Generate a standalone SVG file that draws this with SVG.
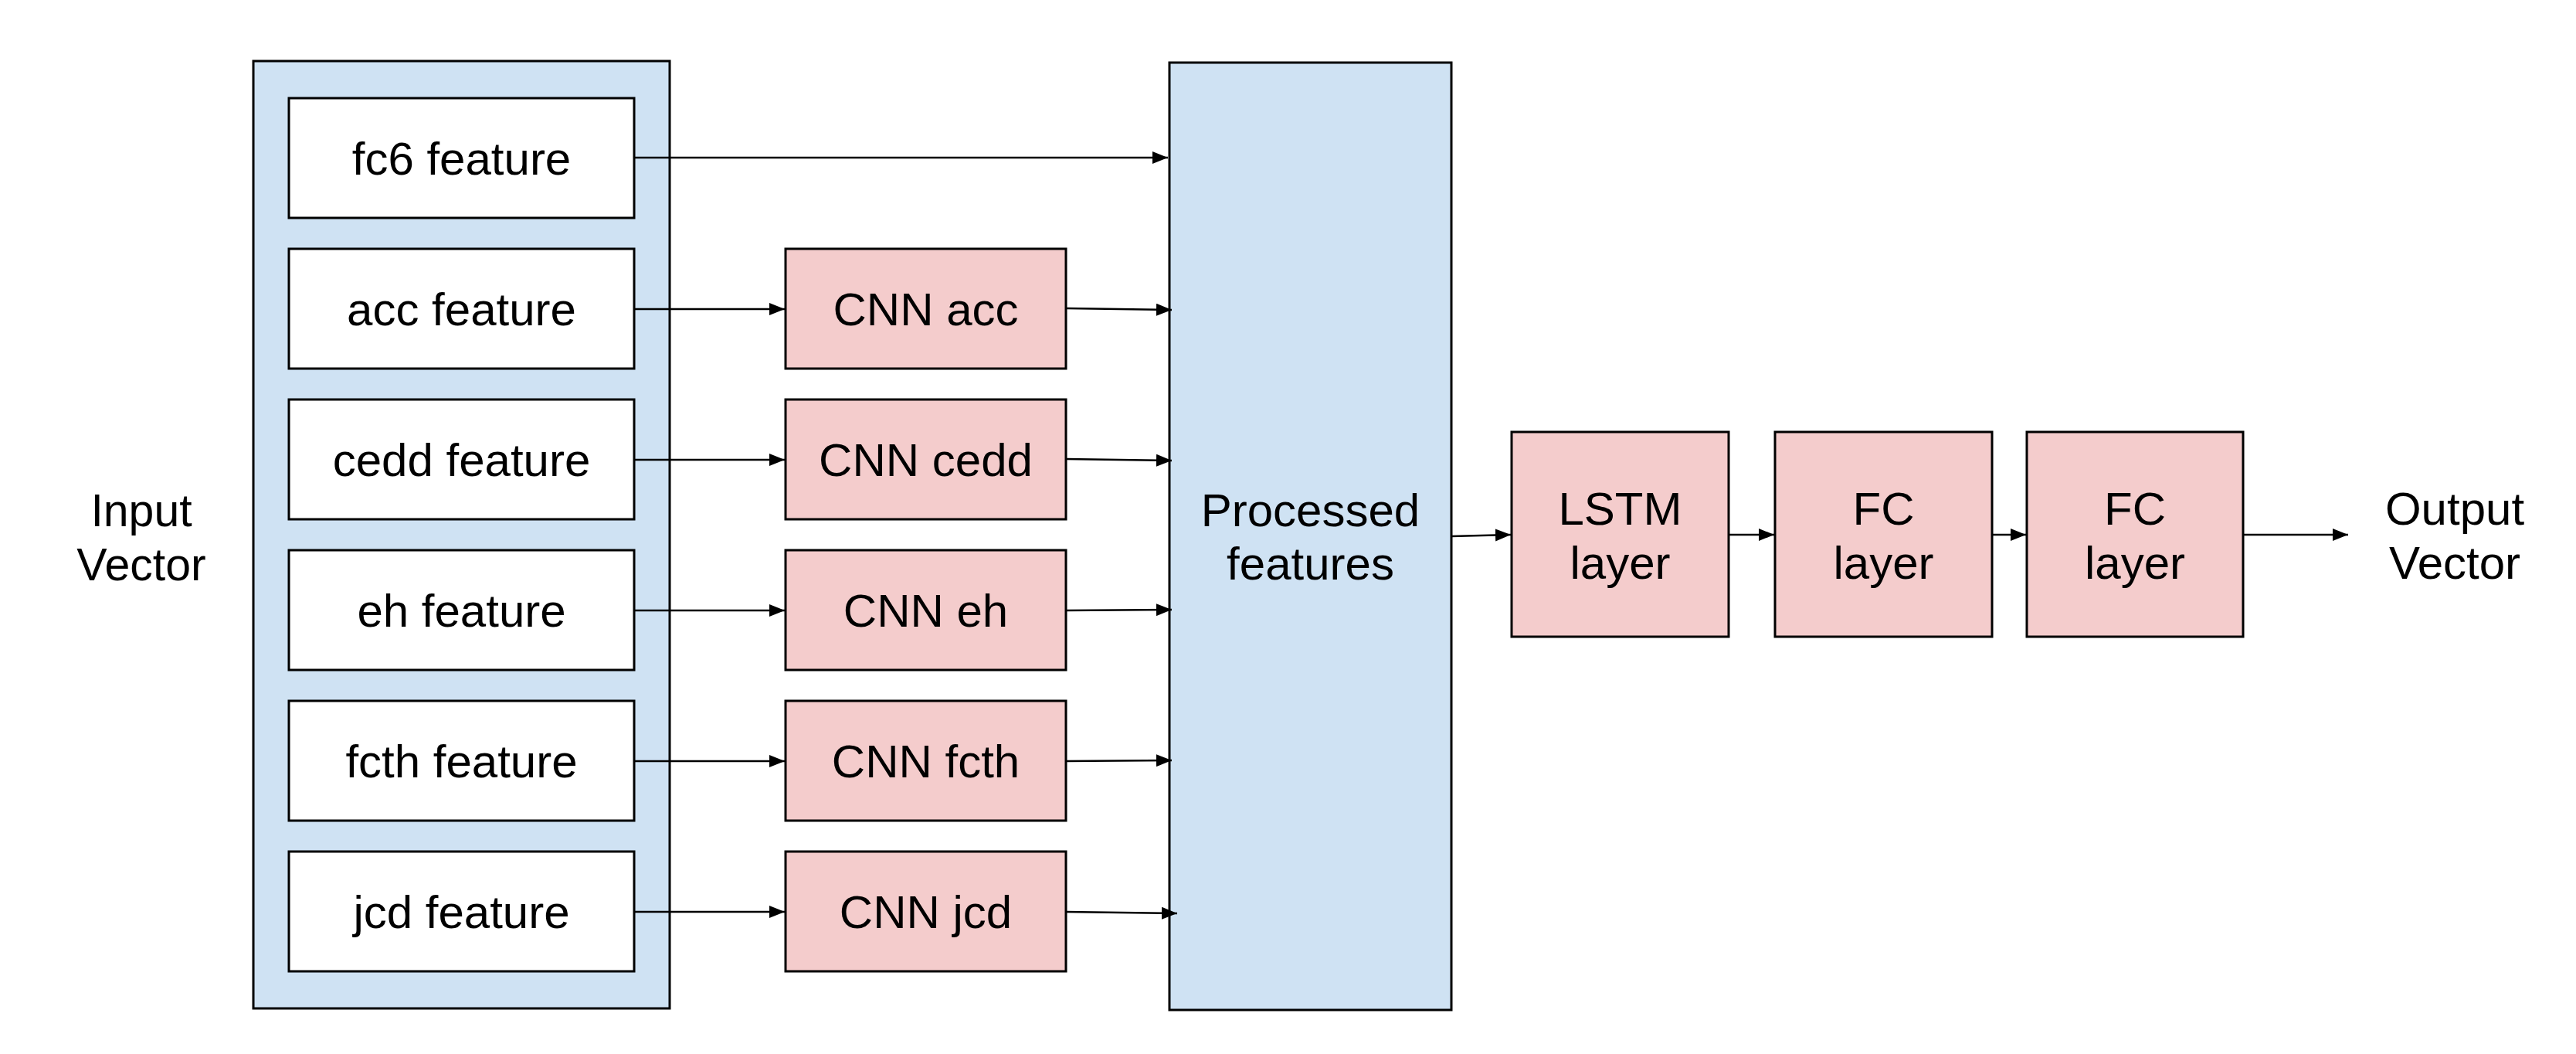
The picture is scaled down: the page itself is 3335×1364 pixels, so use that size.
<svg xmlns="http://www.w3.org/2000/svg" width="3335" height="1364" viewBox="0 0 3335 1364">
<style>
  .blue { fill: #cfe2f3; stroke: #000; stroke-width: 3; }
  .white { fill: #ffffff; stroke: #000; stroke-width: 3; }
  .pink { fill: #f4cccc; stroke: #000; stroke-width: 3; }
  text { font-family: "Liberation Sans", Arial, sans-serif; font-size: 60px; fill: #000; text-anchor: middle; }
  .lbl { font-size: 59px; }
  .conn line { stroke: #000; stroke-width: 2.7; marker-end: url(#ah); }
</style>
<defs>
  <marker id="ah" markerUnits="userSpaceOnUse" markerWidth="22" markerHeight="16" refX="20" refY="8" orient="auto">
    <path d="M0,0 L20,8 L0,16 Z" fill="#000"/>
  </marker>
</defs>
<rect width="3335" height="1364" fill="#fff"/>

<g id="input-label">
  <text class="lbl" x="183" y="681">Input</text>
  <text class="lbl" x="183" y="751">Vector</text>
</g>

<g id="input-group">
  <rect class="blue" x="328" y="79" width="539" height="1226"/>
</g>

<g id="fc6-feature"><rect class="white" x="374" y="127" width="447" height="155"/><text x="597.5" y="226">fc6 feature</text></g>
<g id="acc-feature"><rect class="white" x="374" y="322" width="447" height="155"/><text x="597.5" y="421">acc feature</text></g>
<g id="cedd-feature"><rect class="white" x="374" y="517" width="447" height="155"/><text x="597.5" y="616">cedd feature</text></g>
<g id="eh-feature"><rect class="white" x="374" y="712" width="447" height="155"/><text x="597.5" y="811">eh feature</text></g>
<g id="fcth-feature"><rect class="white" x="374" y="907" width="447" height="155"/><text x="597.5" y="1006">fcth feature</text></g>
<g id="jcd-feature"><rect class="white" x="374" y="1102" width="447" height="155"/><text x="597.5" y="1201">jcd feature</text></g>

<g id="cnn-acc"><rect class="pink" x="1017" y="322" width="363" height="155"/><text x="1198.5" y="421">CNN acc</text></g>
<g id="cnn-cedd"><rect class="pink" x="1017" y="517" width="363" height="155"/><text x="1198.5" y="616">CNN cedd</text></g>
<g id="cnn-eh"><rect class="pink" x="1017" y="712" width="363" height="155"/><text x="1198.5" y="811">CNN eh</text></g>
<g id="cnn-fcth"><rect class="pink" x="1017" y="907" width="363" height="155"/><text x="1198.5" y="1006">CNN fcth</text></g>
<g id="cnn-jcd"><rect class="pink" x="1017" y="1102" width="363" height="155"/><text x="1198.5" y="1201">CNN jcd</text></g>

<g id="processed-features">
  <rect class="blue" x="1514" y="81" width="365" height="1226"/>
  <text x="1696.5" y="681">Processed</text>
  <text x="1696.5" y="750">features</text>
</g>

<g id="lstm-layer"><rect class="pink" x="1957" y="559" width="281" height="265"/><text x="2097.5" y="679">LSTM</text><text x="2097.5" y="749">layer</text></g>
<g id="fc-layer-1"><rect class="pink" x="2298" y="559" width="281" height="265"/><text x="2438.5" y="679">FC</text><text x="2438.5" y="749">layer</text></g>
<g id="fc-layer-2"><rect class="pink" x="2624" y="559" width="280" height="265"/><text x="2764" y="679">FC</text><text x="2764" y="749">layer</text></g>

<g id="output-label">
  <text x="3178" y="679">Output</text>
  <text x="3178" y="749">Vector</text>
</g>

<g id="connectors" class="conn">
  <line x1="821" y1="204" x2="1512" y2="204"/>
  <line x1="821" y1="400" x2="1016" y2="400"/>
  <line x1="821" y1="595" x2="1016" y2="595"/>
  <line x1="821" y1="790" x2="1016" y2="790"/>
  <line x1="821" y1="985" x2="1016" y2="985"/>
  <line x1="821" y1="1180" x2="1016" y2="1180"/>
  <line x1="1380" y1="399" x2="1517" y2="401"/>
  <line x1="1380" y1="594" x2="1517" y2="596"/>
  <line x1="1380" y1="790" x2="1517" y2="789"/>
  <line x1="1380" y1="985" x2="1517" y2="984"/>
  <line x1="1380" y1="1180" x2="1524" y2="1182"/>
  <line x1="1879" y1="694" x2="1956" y2="692"/>
  <line x1="2238" y1="692" x2="2297" y2="692"/>
  <line x1="2579" y1="692" x2="2623" y2="692"/>
  <line x1="2904" y1="692" x2="3040" y2="692"/>
</g>
</svg>
